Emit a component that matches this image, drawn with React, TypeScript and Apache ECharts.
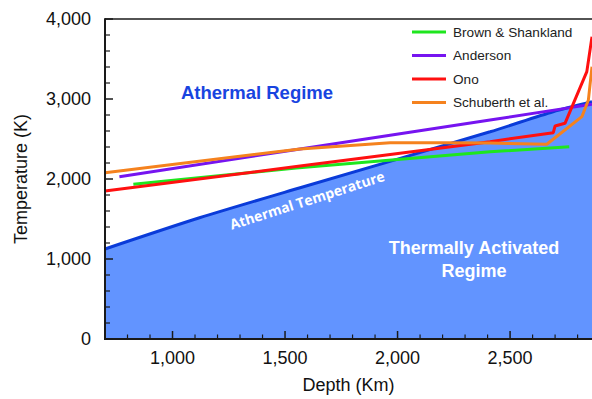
import React, { useEffect, useRef } from "react";
import * as echarts from "echarts";

const depthMajorTicks = [1000, 1500, 2000, 2500];
const depthMinorTicks = [800, 900, 1100, 1200, 1300, 1400, 1600, 1700, 1800, 1900, 2100, 2200, 2300, 2400, 2600, 2700, 2800];
const tempMajorTicks = [0, 1000, 2000, 3000, 4000];
const tempMinorTicks = [200, 400, 600, 800, 1200, 1400, 1600, 1800, 2200, 2400, 2600, 2800, 3200, 3400, 3600, 3800];

const seriesNames = ["Brown & Shankland", "Anderson", "Ono", "Schuberth et al."];

// [depth km, temperature K]
const athermalTemperature = [
  [700, 1125], [1120, 1515], [1567, 1891], [2411, 2590], [2691, 2841], [2864, 2966],
];
const brownShankland = [
  [826, 1933], [1550, 2138], [2411, 2340], [2763, 2404],
];
const anderson = [
  [764, 2029], [1545, 2366], [2411, 2738], [2767, 2892], [2864, 2935],
];
const ono = [
  [700, 1850], [1567, 2162], [2411, 2467], [2692, 2579], [2700, 2663], [2744, 2696], [2841, 3342], [2864, 3779],
];
const schuberth = [
  [700, 2079], [1567, 2375], [1967, 2454], [2200, 2452], [2411, 2450], [2663, 2434], [2819, 2779], [2848, 2988], [2864, 3404],
];

const FONT = '"Liberation Sans", Arial, Helvetica, sans-serif';
const INK = "#1a1a1a";
const fmt = (v: number) => v.toLocaleString("en-US");

const X_MIN = 700;
const X_MAX = 2864;
const Y_MIN = 0;
const Y_MAX = 4000;

function seg(x1: number, y1: number, x2: number, y2: number, w: number) {
  return { type: "line", shape: { x1, y1, x2, y2 }, style: { stroke: INK, lineWidth: w, lineCap: "butt" } };
}

function line(name: string, data: number[][], color: string) {
  return {
    name,
    type: "line",
    data,
    symbol: "none",
    lineStyle: { color, width: 3 },
    itemStyle: { color },
    z: 3,
  };
}

export default function App() {
  const ref = useRef<HTMLDivElement>(null);
  useEffect(() => {
    const chart = echarts.init(ref.current!, null, { renderer: "svg" });
    const option: any = {
      animation: false,
      grid: { left: 105, right: 0, top: 19, bottom: 60 },
      legend: {
        data: seriesNames,
        orient: "vertical",
        left: 412,
        top: 25,
        padding: 0,
        itemWidth: 34,
        itemHeight: 3,
        itemGap: 9.5,
        icon: "rect",
        textStyle: { fontSize: 13.6, color: "#222", fontFamily: FONT, lineHeight: 14, padding: [0, 0, 0, 2] },
      },
      xAxis: {
        type: "value",
        min: X_MIN,
        max: X_MAX,
        name: "Depth (Km)",
        nameLocation: "middle",
        nameGap: 37,
        nameTextStyle: { fontSize: 18, color: "#111", fontFamily: FONT },
        axisLine: { show: false, onZero: false },
        axisTick: { show: false },
        axisLabel: { customValues: depthMajorTicks, formatter: fmt, fontSize: 18, color: "#111", margin: 10, fontFamily: FONT },
        splitLine: { show: false },
      },
      yAxis: {
        type: "value",
        min: Y_MIN,
        max: Y_MAX,
        interval: 1000,
        name: "Temperature (K)",
        nameLocation: "middle",
        nameGap: 75,
        nameTextStyle: { fontSize: 18, color: "#111", fontFamily: FONT },
        axisLine: { show: false, onZero: false },
        axisTick: { show: false },
        axisLabel: { formatter: fmt, fontSize: 18, color: "#111", margin: 14, fontFamily: FONT },
        splitLine: { show: false },
      },
      series: [
        {
          name: "Athermal Temperature",
          type: "line",
          data: athermalTemperature,
          symbol: "none",
          smooth: 0.25,
          lineStyle: { color: "#0a3bd9", width: 3 },
          itemStyle: { color: "#0a3bd9" },
          areaStyle: { color: "#6294ff", opacity: 1 },
          z: 1,
        },
        line("Brown & Shankland", brownShankland, "#1ee61e"),
        line("Anderson", anderson, "#7614f0"),
        line("Ono", ono, "#ff1010"),
        line("Schuberth et al.", schuberth, "#f5821e"),
        {
          type: "custom",
          clip: false,
          z: 20,
          data: [[X_MIN, Y_MIN, X_MAX, Y_MAX]],
          renderItem: (_p: any, api: any) => {
            const x0 = api.value(0);
            const y0 = api.value(1);
            const x1 = api.value(2);
            const y1 = api.value(3);
            const bl = api.coord([x0, y0]);
            const tr = api.coord([x1, y1]);
            const children: any[] = [
              seg(bl[0], tr[1], tr[0], tr[1], 1.5),
              seg(bl[0], bl[1] + 1, bl[0], tr[1] - 0.75, 2),
              seg(bl[0] - 1, bl[1], tr[0], bl[1], 2),
            ];
            depthMajorTicks.forEach((v) => {
              const p = api.coord([v, y0]);
              children.push(seg(p[0], p[1], p[0], p[1] - 8, 1.5));
            });
            depthMinorTicks.forEach((v) => {
              const p = api.coord([v, y0]);
              children.push(seg(p[0], p[1], p[0], p[1] - 4.5, 1.2));
            });
            tempMajorTicks.forEach((v) => {
              const p = api.coord([x0, v]);
              children.push(seg(p[0], p[1], p[0] + 8, p[1], 1.5));
            });
            tempMinorTicks.forEach((v) => {
              const p = api.coord([x0, v]);
              children.push(seg(p[0], p[1], p[0] + 5, p[1], 1.2));
            });
            return { type: "group", children };
          },
        },
      ],
      graphic: [
        {
          type: "text",
          x: 257,
          y: 92,
          style: {
            text: "Athermal Regime",
            fill: "#1844e0",
            fontSize: 18.5,
            fontWeight: "bold",
            fontFamily: FONT,
            textAlign: "center",
            textVerticalAlign: "middle",
          },
          z: 10,
        },
        {
          type: "text",
          x: 474,
          y: 259,
          style: {
            text: "Thermally Activated\nRegime",
            fill: "#fff",
            fontSize: 18,
            fontWeight: "bold",
            fontFamily: FONT,
            lineHeight: 23,
            textAlign: "center",
            textVerticalAlign: "middle",
          },
          z: 10,
        },
        {
          type: "text",
          x: 307,
          y: 200,
          rotation: 0.31,
          style: {
            text: "Athermal Temperature",
            fill: "#fff",
            fontSize: 14,
            fontWeight: "bold",
            fontFamily: '"Open Sans", sans-serif',
            textAlign: "center",
            textVerticalAlign: "middle",
          },
          z: 10,
        },
      ],
    };
    chart.setOption(option);
    return () => chart.dispose();
  }, []);
  return (
    <div
      ref={ref}
      style={{ position: "fixed", left: 0, top: 0, width: 592, height: 399, background: "#fff" }}
    />
  );
}
